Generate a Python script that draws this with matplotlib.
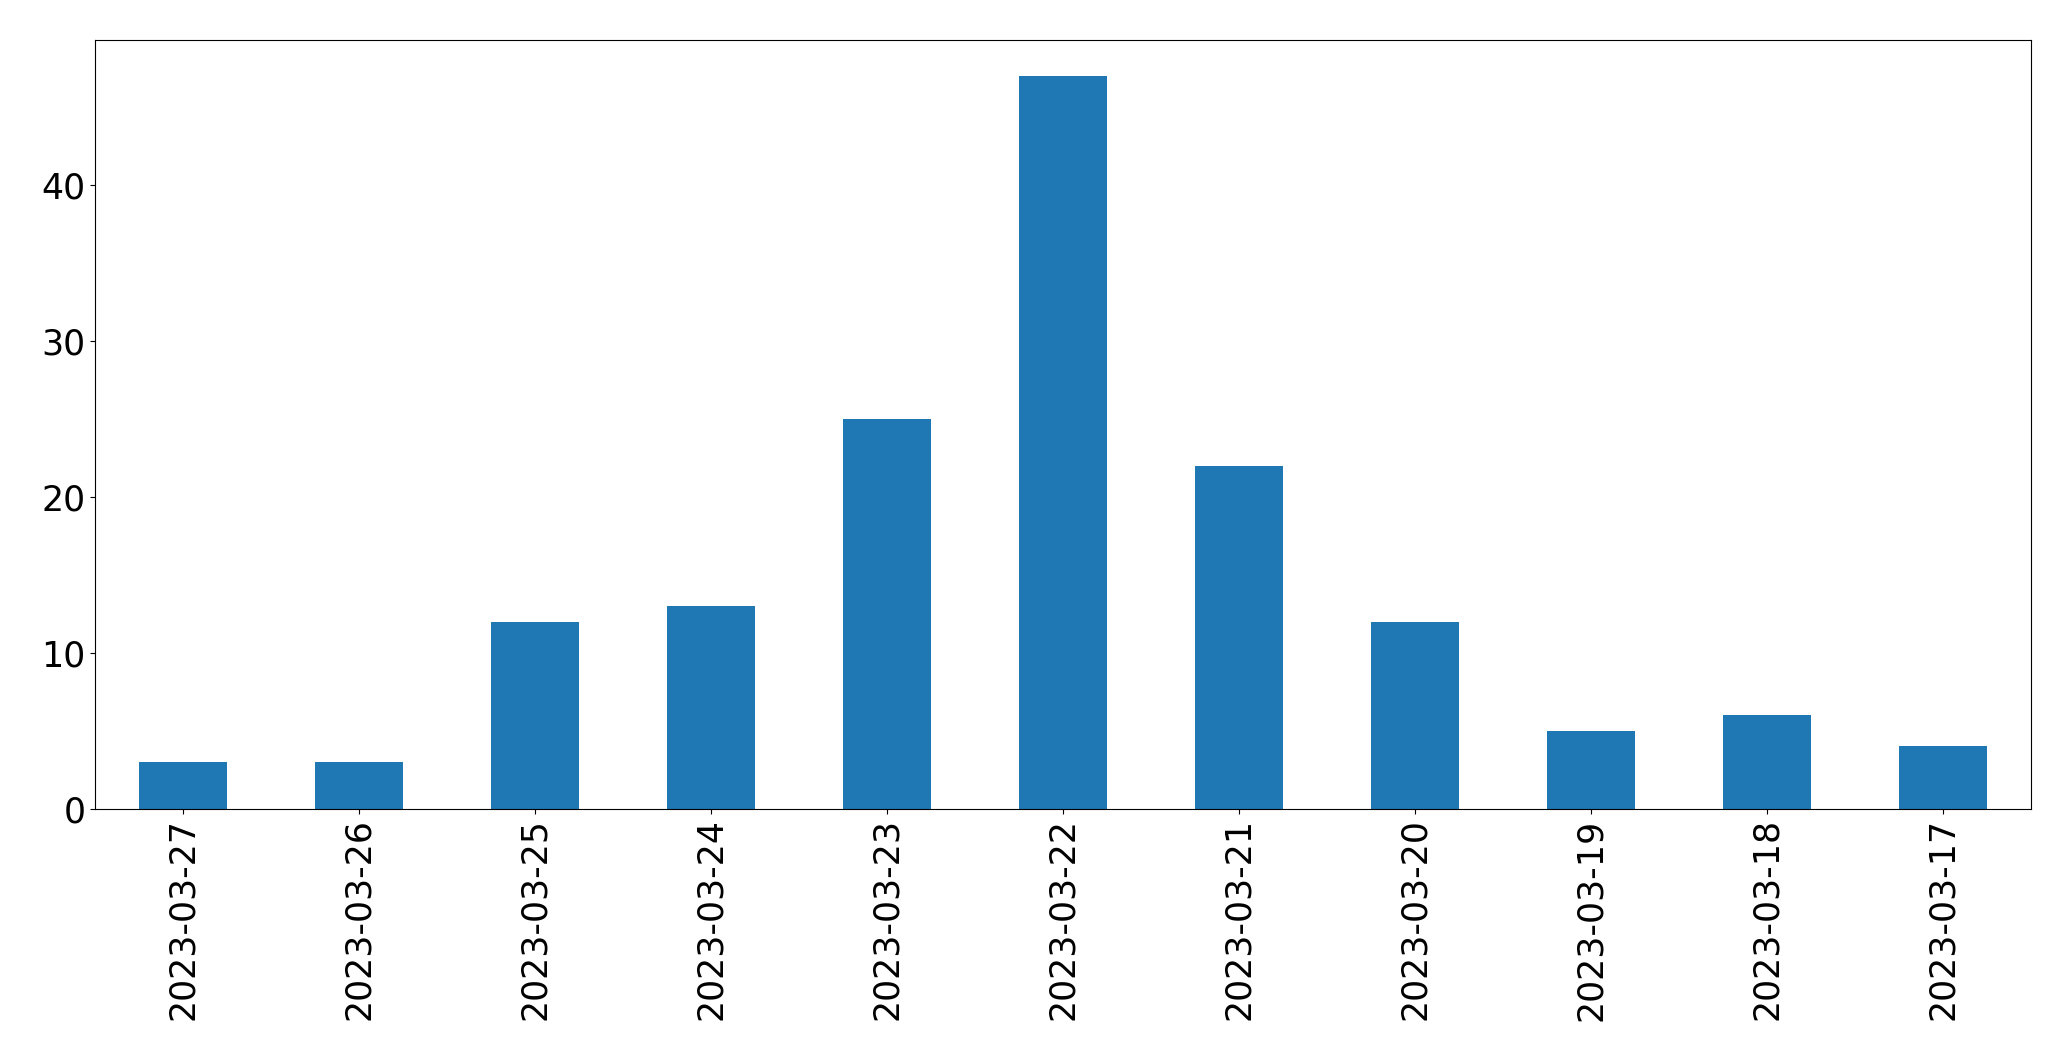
import matplotlib
matplotlib.use("Agg")
import matplotlib.pyplot as plt

dates = ["2023-03-27", "2023-03-26", "2023-03-25", "2023-03-24", "2023-03-23",
         "2023-03-22", "2023-03-21", "2023-03-20", "2023-03-19", "2023-03-18", "2023-03-17"]
counts = [3, 3, 12, 13, 25, 47, 22, 12, 5, 6, 4]

fig = plt.figure(figsize=(20.71, 10.61), dpi=100)
ax = fig.add_axes([0.0459, 0.2379, 0.935, 0.7247])
x = range(len(dates))
ax.bar(x, counts, width=0.5, color="#1f77b4")
ax.set_xticks(list(x))
ax.set_xticklabels(dates, rotation=90, fontsize=25)
ax.tick_params(axis="y", labelsize=25)
ax.set_xlim(-0.5, len(dates) - 0.5)
ax.set_ylim(0, 49.35)
fig.savefig("out.png", dpi=100)
